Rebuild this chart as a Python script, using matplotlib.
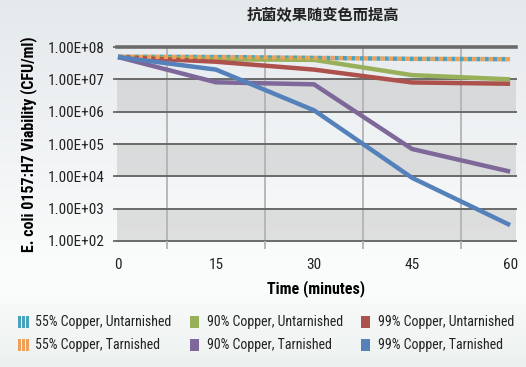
import numpy as np
import matplotlib
matplotlib.use("Agg")
import matplotlib.pyplot as plt
from matplotlib.patches import Rectangle

plt.rcParams['lines.scale_dashes'] = False
NARROW = ['Roboto Condensed', 'Archivo Narrow', 'DejaVu Sans']

# ---------------- data ----------------
times = [0, 15, 30, 45, 60]
cu55_untarnished = [5.0e7, 4.9e7, 4.6e7, 4.3e7, 4.2e7]
cu55_tarnished = [5.0e7, 4.9e7, 4.6e7, 4.3e7, 4.2e7]
cu90_untarnished = [4.9e7, 4.2e7, 4.0e7, 1.35e7, 1.0e7]
cu99_untarnished = [4.9e7, 3.5e7, 2.0e7, 8.0e6, 7.3e6]
cu90_tarnished = [4.9e7, 8.1e6, 7.0e6, 7.0e4, 1.4e4]
cu99_tarnished = [4.9e7, 2.0e7, 1.1e6, 9.0e3, 3.1e2]

labels = ["55% Copper, Untarnished", "90% Copper, Untarnished", "99% Copper, Untarnished",
          "55% Copper, Tarnished", "90% Copper, Tarnished", "99% Copper, Tarnished"]
colors = ["#4aa3bd", "#98b05a", "#ad514c", "#eda05a", "#7e6799", "#5581ba"]
series = [cu55_untarnished, cu90_untarnished, cu99_untarnished,
          cu55_tarnished, cu90_tarnished, cu99_tarnished]
ytick_vals = [1e2, 1e3, 1e4, 1e5, 1e6, 1e7, 1e8]
ytick_labels = ["1.00E+02", "1.00E+03", "1.00E+04", "1.00E+05", "1.00E+06", "1.00E+07", "1.00E+08"]
xtick_labels = ["0", "15", "30", "45", "60"]
title = "抗菌效果随变色而提高"

W, H = 526, 367
fig = plt.figure(figsize=(W / 100, H / 100), dpi=100)

# background gradient
bg = fig.add_axes([0, 0, 1, 1], zorder=-10)
yy = np.linspace(0, 1, 367)
top = np.array([228, 233, 236]) / 255
mid = np.array([250, 251, 251]) / 255
bot = np.array([236, 241, 240]) / 255
img = np.zeros((367, 1, 3))
for i, t in enumerate(yy):
    if t < 0.7:
        f = t / 0.7
        img[i, 0] = top * (1 - f) + mid * f
    elif t < 0.8:
        img[i, 0] = mid
    else:
        f = (t - 0.8) / 0.2
        img[i, 0] = mid * (1 - f) + bot * f
bg.imshow(img, aspect='auto', extent=[0, 1, 0, 1])
bg.axis('off')

x0, x1, ytop, ybot = 117, 516, 47, 241
ax = fig.add_axes([x0 / W, 1 - ybot / H, (x1 - x0) / W, (ybot - ytop) / H])
ax.patch.set_alpha(0)
ax.set_yscale('log')
ax.set_ylim(1e2, 1e8)
ax.set_xlim(-0.15, 60.9)

# gray bands
for lo in [1e2, 1e4, 1e6]:
    ax.axhspan(lo, lo * 10, color='#c4c4c4', alpha=0.5, lw=0, zorder=0)

# gridlines
for v in ytick_vals:
    ax.axhline(v, color='#6a6a6a', lw=2.6 if v == 1e8 else 1.4, zorder=1, clip_on=False)
for xv in [7.5, 22.5, 37.5, 52.5]:
    ax.axvline(xv, color='#b3b3b3', lw=1.3, zorder=0.5)

for sp in ax.spines.values():
    sp.set_visible(False)

ax.set_yticks(ytick_vals)
ax.set_yticklabels(ytick_labels, family=NARROW, fontsize=11, color='#222222')
ax.yaxis.set_minor_locator(matplotlib.ticker.NullLocator())
ax.tick_params(axis='y', length=3, color='#6a6a6a', width=1.3, pad=6)
ax.set_xticks(times)
ax.set_xticklabels(xtick_labels, family=NARROW, fontsize=11, color='#222222')
ax.set_xticks([7.5, 22.5, 37.5, 52.5], minor=True)
ax.tick_params(axis='x', which='major', length=0, pad=12)
ax.tick_params(axis='x', which='minor', length=6, color='#b3b3b3', width=1.3)

ax.set_xlabel("Time (minutes)", family=NARROW, fontsize=11.5, weight='bold', labelpad=6)
ax.set_ylabel("E. coli 0157:H7 Viability (CFU/ml)", family=NARROW, fontsize=11.5,
              weight='bold', labelpad=8)

# lines
lw = 3.2
ax.plot(times, series[0], color=colors[0], lw=lw, zorder=3,
        linestyle=(0, (3, 3)), dash_capstyle='butt')
ax.plot(times, series[1], color=colors[1], lw=lw, zorder=3, solid_capstyle='butt')
ax.plot(times, series[2], color=colors[2], lw=lw, zorder=3, solid_capstyle='butt')
ax.plot(times, series[3], color=colors[3], lw=lw, zorder=3,
        linestyle=(3, (3, 3)), dash_capstyle='butt')
ax.plot(times, series[4], color=colors[4], lw=lw, zorder=3, solid_capstyle='butt')
ax.plot(times, series[5], color=colors[5], lw=lw, zorder=3, solid_capstyle='butt')

# title
fig.text(323 / W, 1 - 15 / H, title, family=['Noto Sans CJK SC', 'DejaVu Sans'],
         fontsize=11, weight='bold', ha='center', va='center', color='#222222')

# legend (manual)
col_x = [18, 190, 361]
row_y = [322, 345]
for i, lab in enumerate(labels):
    r, c = divmod(i, 3)
    mx, my = col_x[c], row_y[r]
    if i in (0, 3):
        for k in range(3):
            fig.patches.append(Rectangle(((mx + k * 4) / W, 1 - (my + 6) / H), 3 / W, 12 / H,
                                         transform=fig.transFigure, color=colors[i], lw=0))
    else:
        fig.patches.append(Rectangle((mx / W, 1 - (my + 6) / H), 9 / W, 12 / H,
                                     transform=fig.transFigure, color=colors[i], lw=0))
    fig.text((mx + 17) / W, 1 - my / H, lab, family=NARROW, fontsize=10,
             ha='left', va='center', color='#222222')

fig.savefig("out.png", dpi=100)
